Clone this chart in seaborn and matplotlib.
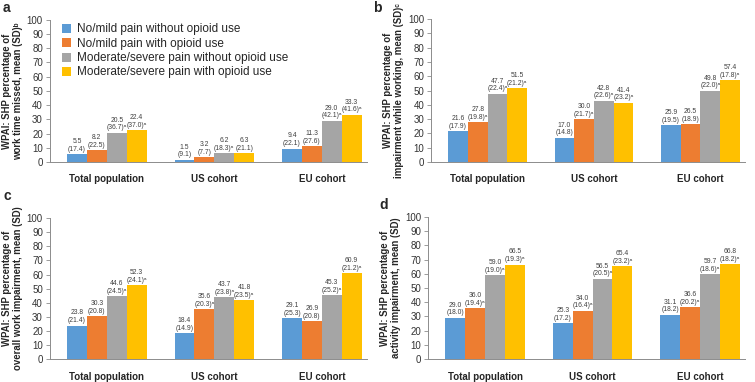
import numpy as np
import pandas as pd
import matplotlib
matplotlib.use('Agg')
import matplotlib.pyplot as plt
import seaborn as sns

sns.set_style('white')
plt.rcParams['font.family'] = ['Liberation Sans', 'DejaVu Sans']

# categories and series
groups = ['Total population', 'US cohort', 'EU cohort']
series = ['No/mild pain without opioid use', 'No/mild pain with opioid use',
          'Moderate/severe pain without opioid use', 'Moderate/severe pain with opioid use']
colors = ['#5B9BD5', '#ED7D31', '#A5A5A5', '#FFC000']

# values per panel: rows = series, columns = groups
mean_a = [[5.5, 1.5, 9.4], [8.2, 3.2, 11.3], [20.5, 6.2, 29.0], [22.4, 6.3, 33.3]]
sd_a = [[17.4, 9.1, 22.1], [22.5, 7.7, 27.6], [36.7, 18.3, 42.1], [37.0, 21.1, 41.6]]
sig_a = [[0, 0, 0], [0, 0, 0], [1, 1, 1], [1, 0, 1]]

mean_b = [[21.6, 17.0, 25.9], [27.8, 30.0, 26.5], [47.7, 42.8, 49.8], [51.5, 41.4, 57.4]]
sd_b = [[17.9, 14.8, 19.5], [19.8, 21.7, 18.9], [22.4, 22.6, 22.0], [21.2, 23.2, 17.8]]
sig_b = [[0, 0, 0], [1, 1, 0], [1, 1, 1], [1, 1, 1]]

mean_c = [[23.8, 18.4, 29.1], [30.3, 35.6, 26.9], [44.6, 43.7, 45.3], [52.3, 41.8, 60.9]]
sd_c = [[21.4, 14.9, 25.3], [20.8, 20.3, 20.8], [24.5, 23.8, 25.2], [24.1, 23.5, 21.2]]
sig_c = [[0, 0, 0], [0, 1, 0], [1, 1, 1], [1, 1, 1]]

mean_d = [[29.0, 25.3, 31.1], [36.0, 34.0, 36.6], [59.0, 56.5, 59.7], [66.5, 65.4, 66.8]]
sd_d = [[18.0, 17.2, 18.2], [19.4, 16.4, 20.2], [19.0, 20.5, 18.6], [19.3, 23.2, 18.2]]
sig_d = [[0, 0, 0], [1, 1, 1], [1, 1, 1], [1, 1, 1]]

ylabels = ['WPAI: SHP percentage of\nwork time missed, mean (SD)\u1d47',
           'WPAI: SHP percentage of\nimpairment while working, mean (SD)\u1d9c',
           'WPAI: SHP percentage of\noverall work impairment, mean (SD)',
           'WPAI: SHP percentage of\nactivity impairment, mean (SD)']
letters = ['a', 'b', 'c', 'd']

fig = plt.figure(figsize=(7.55, 3.82), dpi=100)
axes = [fig.add_axes([0.066, 0.576, 0.420, 0.372]),
        fig.add_axes([0.571, 0.576, 0.416, 0.374]),
        fig.add_axes([0.066, 0.060, 0.420, 0.369]),
        fig.add_axes([0.567, 0.060, 0.420, 0.372])]
letter_pos = [(0.004, 0.998), (0.494, 0.998), (0.004, 0.505), (0.502, 0.482)]

panels = [(mean_a, sd_a, sig_a), (mean_b, sd_b, sig_b),
          (mean_c, sd_c, sig_c), (mean_d, sd_d, sig_d)]

for i, (ax, (means, sds, sigs)) in enumerate(zip(axes, panels)):
    rows = []
    for s, name in enumerate(series):
        for g, grp in enumerate(groups):
            rows.append({'group': grp, 'series': name, 'value': means[s][g]})
    df = pd.DataFrame(rows)

    sns.barplot(data=df, x='group', y='value', hue='series', order=groups,
                hue_order=series, palette=colors, saturation=1, width=0.74,
                edgecolor='none', errorbar=None, legend=(i == 0), ax=ax)

    # value labels above bars
    for s, cont in enumerate(ax.containers):
        labs = ['{:.1f}\n({:.1f}){}'.format(means[s][g], sds[s][g], '\u1d43' if sigs[s][g] else '')
                for g in range(len(groups))]
        ax.bar_label(cont, labels=labs, padding=1, fontsize=4.9, color='#404040',
                     linespacing=1.15)

    ax.set_ylim(0, 100)
    ax.set_xlim(-0.53, 2.42)
    ax.set_yticks(np.arange(0, 101, 10))
    ax.set_xlabel('')
    ax.set_ylabel(ylabels[i], fontsize=6.9, fontweight='bold', labelpad=3, linespacing=1.1)
    ax.tick_params(axis='y', labelsize=7, length=3, width=0.6, color='#8c8c8c',
                   pad=2, labelcolor='#333333', left=True)
    ax.tick_params(axis='x', length=0, pad=9)
    for lab in ax.get_xticklabels():
        lab.set_fontsize(7)
        lab.set_fontweight('bold')
    sns.despine(ax=ax)
    for sp in ['left', 'bottom']:
        ax.spines[sp].set_color('#8c8c8c')
        ax.spines[sp].set_linewidth(0.7)

    fig.text(letter_pos[i][0], letter_pos[i][1], letters[i], fontsize=10,
             fontweight='bold', va='top', ha='left')

    if i == 0:
        h, l = ax.get_legend_handles_labels()
        ax.legend(h, l, loc='upper left', bbox_to_anchor=(0.038, 0.975), frameon=False,
                  fontsize=8.5, handlelength=0.8, handleheight=0.8, handletextpad=0.5,
                  labelspacing=0.2, borderpad=0, borderaxespad=0)

fig.savefig('out.png', dpi=100)
